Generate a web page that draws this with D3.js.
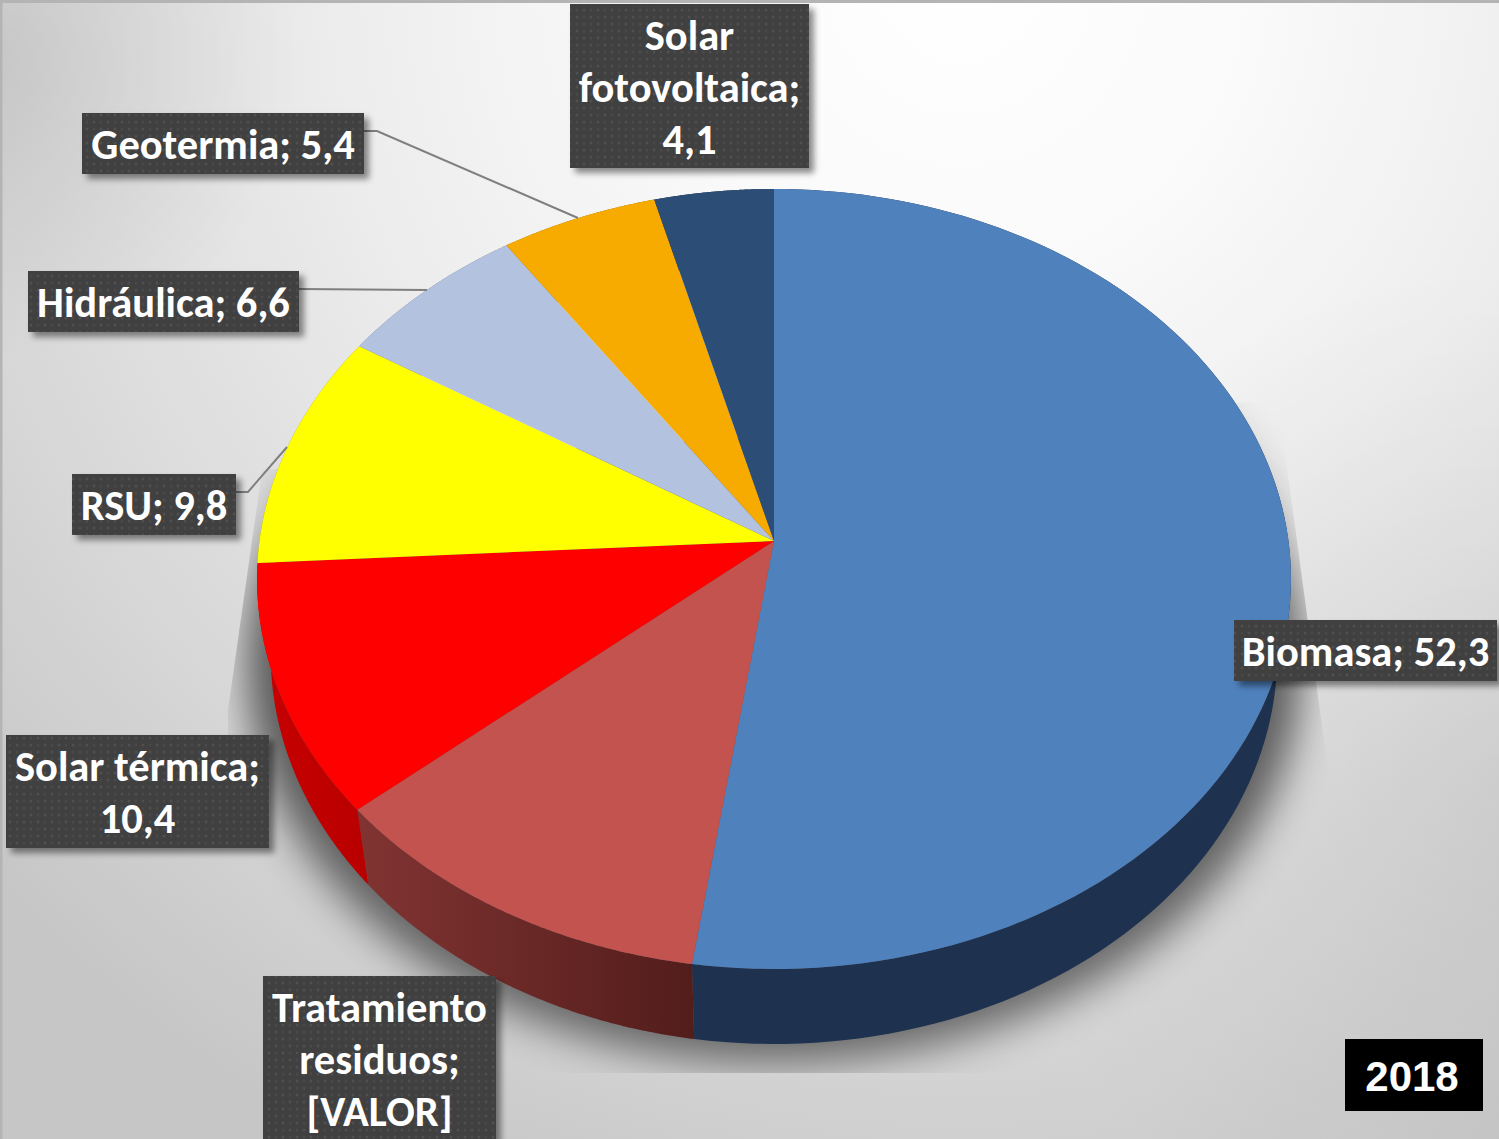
<!DOCTYPE html>
<html><head><meta charset="utf-8">
<script src="https://cdn.jsdelivr.net/npm/d3@7"></script>
<style>html,body{margin:0;padding:0;background:#fff}svg{display:block}</style>
</head><body><div id="chart"></div>
<script>
const categories = ["Biomasa","Tratamiento residuos","Solar térmica","RSU","Hidráulica","Geotermia","Solar fotovoltaica"];
const values = [52.3,11.4,10.4,9.8,6.6,5.4,4.1];
const topColors = ["#4f81bd","#c3534f","#ff0000","#ffff00","#b3c2df","#f7ab00","#2c4d75"];
const labelLines = [["Biomasa; 52,3"],["Tratamiento","residuos;","[VALOR]"],["Solar térmica;","10,4"],["RSU; 9,8"],["Hidráulica; 6,6"],["Geotermia; 5,4"],["Solar","fotovoltaica;","4,1"]];
const yearLabel = "2018";

// label box layout: x0,y0,x1,y1 in slice order
const boxes = [[1234,620,1497,681],[263,976,496,1150],[6,735,269,848],[72,474,236,535],[28,271,299,332],[82,113,364,174],[570,4,809,168]];
const leaders = [null,null,null,[[236,492],[248,492],[287,447]],[[299,289],[427,290]],[[364,131],[377,131],[578,218]],null];

const W=1499,H=1139;
const cx=774,cy=541,a=514.5,b=386.3,k=-0.0974,depth=75,sx=0.9736;
const fontFam="Carlito, Calibri, Lato, sans-serif";

const svg=d3.select("#chart").append("svg").attr("width",W).attr("height",H);
const defs=svg.append("defs");

const bg=defs.append("radialGradient").attr("id","bg").attr("gradientUnits","userSpaceOnUse")
  .attr("cx",960).attr("cy",-20).attr("r",1320);
[[0,"#ffffff"],[0.22,"#fafafa"],[0.45,"#eeeeee"],[0.75,"#d9d9d9"],[1,"#c6c6c6"]].forEach(s=>bg.append("stop").attr("offset",s[0]).attr("stop-color",s[1]));

const corner=defs.append("radialGradient").attr("id","corner").attr("gradientUnits","userSpaceOnUse")
  .attr("cx",0).attr("cy",60).attr("r",300);
corner.append("stop").attr("offset",0).attr("stop-color","#000").attr("stop-opacity",.09);
corner.append("stop").attr("offset",1).attr("stop-color","#000").attr("stop-opacity",0);

const rightShade=defs.append("radialGradient").attr("id","rightShade").attr("gradientUnits","userSpaceOnUse")
  .attr("cx",1499).attr("cy",780).attr("r",520);
rightShade.append("stop").attr("offset",0).attr("stop-color","#000").attr("stop-opacity",.06);
rightShade.append("stop").attr("offset",1).attr("stop-color","#000").attr("stop-opacity",0);

const pat=defs.append("pattern").attr("id","dots").attr("patternUnits","userSpaceOnUse").attr("width",14).attr("height",14);
pat.append("rect").attr("width",14).attr("height",14).attr("fill","#3f3f3f");
[[3,3],[10,3],[3,10],[10,10]].forEach((p,i)=>pat.append("circle").attr("cx",p[0]).attr("cy",p[1]).attr("r",1.5).attr("fill",i%3==0?"#505050":"#4a4a4a"));

const blur=defs.append("filter").attr("id","blur").attr("x","-20%").attr("y","-20%").attr("width","140%").attr("height","140%");
blur.append("feGaussianBlur").attr("stdDeviation",20);
const ds=defs.append("filter").attr("id","ds").attr("x","-10%").attr("y","-10%").attr("width","125%").attr("height","130%");
ds.append("feDropShadow").attr("dx",5).attr("dy",5).attr("stdDeviation",3).attr("flood-color","#000").attr("flood-opacity",.45);

const tr=defs.append("linearGradient").attr("id","side1").attr("gradientUnits","userSpaceOnUse").attr("x1",358).attr("x2",694).attr("y1",0).attr("y2",0);
tr.append("stop").attr("offset",0).attr("stop-color","#813432");
tr.append("stop").attr("offset",1).attr("stop-color","#521d1b");
const rs=defs.append("linearGradient").attr("id","side2").attr("gradientUnits","userSpaceOnUse").attr("x1",260).attr("x2",368).attr("y1",0).attr("y2",0);
rs.append("stop").attr("offset",0).attr("stop-color","#c80000");
rs.append("stop").attr("offset",1).attr("stop-color","#b80000");
const sideFill=["#1e324f","url(#side1)","url(#side2)","#999900","#6b7486","#946700","#1a2e46"];

defs.append("clipPath").attr("id","shClip").append("path").attr("d","M1278,400L1332,800L1332,1073L228,1073L228,710L262,470Z");

svg.append("rect").attr("width",W).attr("height",H).attr("fill","url(#bg)");
svg.append("rect").attr("width",300).attr("height",360).attr("fill","url(#corner)");
svg.append("rect").attr("x",979).attr("y",260).attr("width",520).attr("height",879).attr("fill","url(#rightShade)");

// perspective disc projection
const topPt=t=>{const u=Math.sin(t),v=-Math.cos(t),d=1+k*v;return [cx+a*u/d,cy+b*v/d];};
const lowPt=t=>{const p=topPt(t);return [cx+(p[0]-cx)*sx,p[1]+depth];};
const pie=d3.pie().sort(null).value(d=>d)(values);
const samples=(s,e)=>d3.range(0,121).map(i=>s+(e-s)*i/120);
const line=d3.line();

// shadow
const full=samples(0,2*Math.PI);
svg.append("g").attr("clip-path","url(#shClip)").append("path")
  .attr("d",line(full.map(t=>{const p=lowPt(t);return [cx+(p[0]-cx)*1.045,p[1]+20];}))+"Z")
  .attr("fill","#000").attr("opacity",.5).attr("filter","url(#blur)");
svg.append("g").attr("clip-path","url(#shClip)").append("path")
  .attr("d",line(full.map(t=>{const p=topPt(t);return [cx+(p[0]-cx)*1.02,p[1]+40];}))+"Z")
  .attr("fill","#000").attr("opacity",.18).attr("filter","url(#blur)");

// side walls
svg.append("g").selectAll("path").data(pie).join("path")
  .attr("d",d=>{const ts=samples(d.startAngle,d.endAngle);return line(ts.map(topPt).concat(ts.slice().reverse().map(lowPt)))+"Z";})
  .attr("fill",(d,i)=>sideFill[i]);

// top faces
svg.append("g").selectAll("path").data(pie).join("path")
  .attr("d",d=>line([[cx,cy]].concat(samples(d.startAngle,d.endAngle).map(topPt)))+"Z")
  .attr("fill",(d,i)=>topColors[i]);

// leader lines
svg.append("g").selectAll("path").data(leaders.filter(Boolean)).join("path")
  .attr("d",d=>line(d)).attr("fill","none").attr("stroke","#7f7f7f").attr("stroke-width",2);

// labels
const lh=52;
const lab=svg.append("g").selectAll("g").data(categories).join("g");
lab.append("rect").attr("x",(d,i)=>boxes[i][0]).attr("y",(d,i)=>boxes[i][1])
  .attr("width",(d,i)=>boxes[i][2]-boxes[i][0]).attr("height",(d,i)=>boxes[i][3]-boxes[i][1])
  .attr("fill","url(#dots)").attr("filter","url(#ds)");
lab.each(function(d,i){
  const g=d3.select(this),B=boxes[i];
  labelLines[i].forEach((s,j)=>{
    g.append("text").attr("x",(B[0]+B[2])/2).attr("y",B[1]+46+j*lh).attr("text-anchor","middle")
     .attr("fill","#fff").attr("font-family",fontFam).attr("font-weight",700).attr("font-size",42.5).text(s);
  });
});

// year
svg.append("rect").attr("x",1345).attr("y",1039).attr("width",138).attr("height",72).attr("fill","#000");
svg.append("text").attr("x",1412).attr("y",1091).attr("text-anchor","middle").attr("fill","#fff")
  .attr("font-family","Liberation Sans, Arial, sans-serif").attr("font-weight",700).attr("font-size",42).text(yearLabel);

// frame
svg.append("path").attr("d",`M1,${H}V1.5H${W}`).attr("fill","none").attr("stroke","#b4b4b4").attr("stroke-width",3);
</script></body></html>
